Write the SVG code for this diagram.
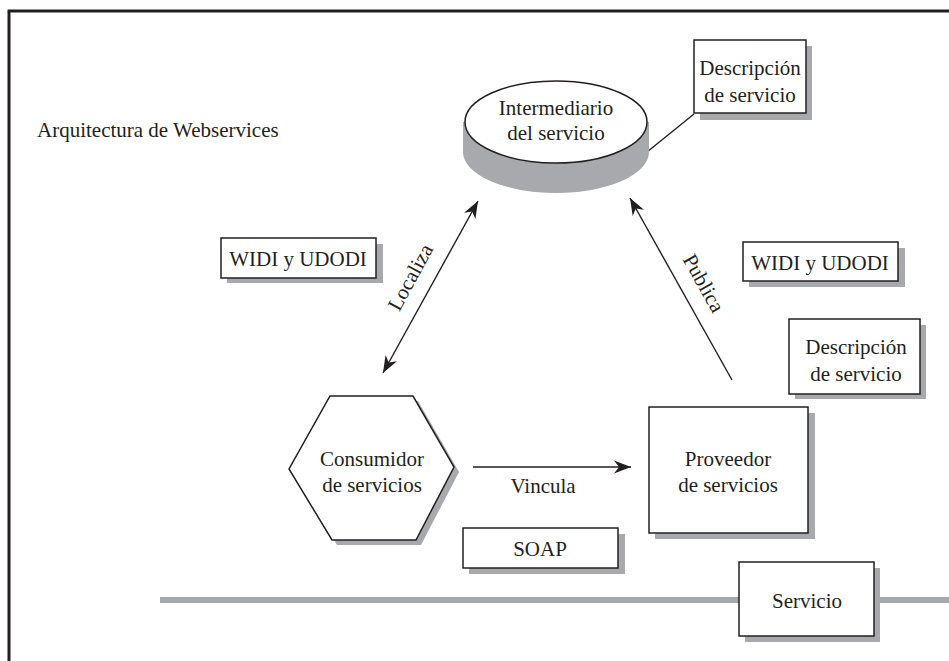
<svg xmlns="http://www.w3.org/2000/svg" width="949" height="661" viewBox="0 0 949 661">
  <style>
    .t { font-family: "Liberation Serif", "Times New Roman", serif; font-size: 21px; fill: #231f20; text-anchor: middle; }
    .box { fill: #ffffff; stroke: #231f20; stroke-width: 1.5; }
    .shadow { fill: #a7a9ac; }
    .conn { stroke: #231f20; stroke-width: 1.4; fill: none; }
  </style>
  <defs>
    <marker id="arrow" markerUnits="userSpaceOnUse" markerWidth="20" markerHeight="14" viewBox="-18 -7 20 14" refX="0" refY="0" orient="auto-start-reverse">
      <path d="M0,0 L-17,-6.5 L-12,0 L-17,6.5 Z" fill="#231f20"/>
    </marker>
  </defs>

  <rect width="949" height="661" fill="#ffffff"/>
  <!-- outer frame -->
  <rect x="9" y="11" width="960" height="680" fill="none" stroke="#231f20" stroke-width="3"/>

  <text class="t" x="37" y="137" style="text-anchor:start">Arquitectura de Webservices</text>

  <!-- service bus line -->
  <line x1="160" y1="600" x2="949" y2="600" stroke="#a7a9ac" stroke-width="6"/>

  <g id="connectors">
    <line class="conn" x1="647" y1="152" x2="694" y2="114"/>
    <line class="conn" x1="383" y1="373" x2="478" y2="201" marker-start="url(#arrow)" marker-end="url(#arrow)"/>
    <line class="conn" x1="732" y1="380" x2="630" y2="198" marker-end="url(#arrow)"/>
    <line class="conn" x1="473" y1="467" x2="631" y2="467" marker-end="url(#arrow)"/>
    <text class="t" transform="translate(410 277) rotate(-61.5)" dy="0.35em">Localiza</text>
    <text class="t" transform="translate(704 283) rotate(60.7)" dy="0.35em">Publica</text>
    <text class="t" x="543" y="493">Vincula</text>
  </g>

  <g id="intermediario">
    <ellipse class="shadow" cx="556" cy="152" rx="93" ry="41"/>
    <rect class="shadow" x="463" y="122" width="186" height="30"/>
    <ellipse cx="556" cy="122" rx="91" ry="41" fill="#ffffff" stroke="#231f20" stroke-width="1.5"/>
    <text class="t" x="556" y="115">Intermediario</text>
    <text class="t" x="556" y="140">del servicio</text>
  </g>

  <g id="descripcion-top">
    <rect class="shadow" x="700" y="46" width="112" height="74"/>
    <rect class="box" x="694" y="40" width="112" height="73"/>
    <text class="t" x="750" y="75">Descripción</text>
    <text class="t" x="750" y="102">de servicio</text>
  </g>

  <g id="widi-left">
    <rect class="shadow" x="227" y="244" width="156" height="39"/>
    <rect class="box" x="221" y="238" width="155" height="40"/>
    <text class="t" x="298" y="266">WIDI y UDODI</text>
  </g>

  <g id="widi-right">
    <rect class="shadow" x="749" y="248" width="156" height="39"/>
    <rect class="box" x="743" y="242" width="155" height="39"/>
    <text class="t" x="820" y="270">WIDI y UDODI</text>
  </g>

  <g id="descripcion-right">
    <rect class="shadow" x="795" y="325" width="131" height="74"/>
    <rect class="box" x="789" y="319" width="131" height="75"/>
    <text class="t" x="856" y="354">Descripción</text>
    <text class="t" x="856" y="381">de servicio</text>
  </g>

  <g id="consumidor">
    <polygon class="shadow" points="335,401 418,401 459,472 421,545 337,545 294,474"/>
    <polygon class="box" points="330,396 413,396 454,467 416,540 332,540 289,469"/>
    <text class="t" x="372" y="466">Consumidor</text>
    <text class="t" x="372" y="492">de servicios</text>
  </g>

  <g id="proveedor">
    <rect class="shadow" x="655" y="413" width="160" height="126"/>
    <rect class="box" x="649" y="407" width="159" height="126"/>
    <text class="t" x="728" y="466">Proveedor</text>
    <text class="t" x="728" y="492">de servicios</text>
  </g>

  <g id="soap">
    <rect class="shadow" x="469" y="534" width="156" height="40"/>
    <rect class="box" x="463" y="528" width="155" height="40"/>
    <text class="t" x="540" y="556">SOAP</text>
  </g>

  <g id="servicio">
    <rect class="shadow" x="745" y="568" width="135" height="74"/>
    <rect class="box" x="739" y="562" width="135" height="74"/>
    <text class="t" x="807" y="608">Servicio</text>
  </g>
</svg>
